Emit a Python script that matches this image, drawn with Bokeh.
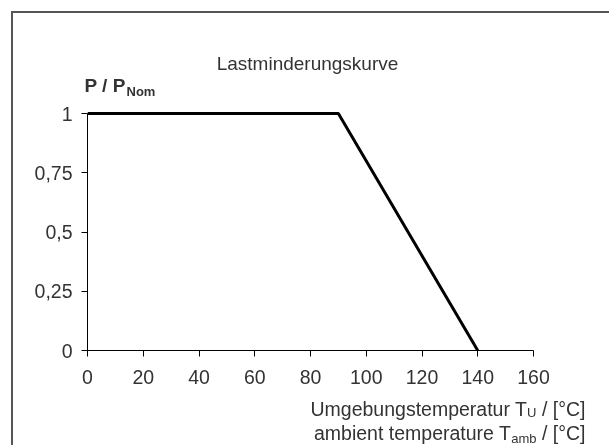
from bokeh.plotting import figure
from bokeh.models import Label, FixedTicker, Range1d
from bokeh.embed import file_html
from bokeh.resources import INLINE

# ---- data ----
temperature = [0, 90, 140]
load_ratio = [1, 1, 0]
x_ticks = [0, 20, 40, 60, 80, 100, 120, 140, 160]
y_ticks = [0, 0.25, 0.5, 0.75, 1]
y_tick_labels = ["0", "0,25", "0,5", "0,75", "1"]
chart_title = "Lastminderungskurve"
y_label_main = "P / P"
y_label_sub = "Nom"
x_label1 = ["Umgebungstemperatur T", "U", "/ [°C]"]
x_label2 = ["ambient temperature T", "amb", "/ [°C]"]

FONT = "Liberation Sans"
TXT = "#333333"

# ---- main chart ----
p = figure(width=600, height=440, x_range=Range1d(0, 160), y_range=Range1d(0, 1.03),
           min_border_left=74, min_border_right=80, min_border_top=93, min_border_bottom=103,
           output_backend="svg", toolbar_location=None, title=None)
p.styles = {"position": "fixed", "left": "11px", "top": "11px",
            "border-left": "2px solid #555555", "border-top": "2px solid #555555"}
p.outline_line_color = None
p.background_fill_color = "white"
p.border_fill_color = "white"
p.xgrid.visible = False
p.ygrid.visible = False

p.line(temperature, load_ratio, line_color="black", line_width=3)

for ax in (p.xaxis[0], p.yaxis[0]):
    ax.axis_line_color = "black"
    ax.major_tick_line_color = "black"
    ax.minor_tick_line_color = None
    ax.major_tick_in = 0
    ax.major_tick_out = 6
    ax.major_label_text_font = FONT
    ax.major_label_text_font_size = "19.5px"
    ax.major_label_text_color = TXT

p.xaxis[0].ticker = FixedTicker(ticks=x_ticks)
p.xaxis[0].bounds = (0, 160)
p.xaxis[0].major_label_standoff = 13

p.yaxis[0].ticker = FixedTicker(ticks=y_ticks)
p.yaxis[0].bounds = (0, 1)
p.yaxis[0].major_label_standoff = 9
p.yaxis[0].major_label_overrides = {t: s for t, s in zip(y_ticks, y_tick_labels)}

# ---- transparent text overlay (page pixel coordinates) ----
ov = figure(width=609, height=445, x_range=Range1d(0, 609), y_range=Range1d(445, 0),
            min_border=0, x_axis_type=None, y_axis_type=None,
            output_backend="svg", toolbar_location=None, title=None)
ov.styles = {"position": "fixed", "left": "0px", "top": "0px"}
ov.xgrid.visible = False
ov.ygrid.visible = False
ov.outline_line_color = None
ov.background_fill_alpha = 0
ov.border_fill_alpha = 0


def lab(x, y, text, size, align="left", bold=False):
    ov.add_layout(Label(x=x, y=y, text=text, text_font=FONT, text_font_size=size,
                        text_color=TXT, text_align=align, text_baseline="alphabetic",
                        text_font_style="bold" if bold else "normal"))


lab(307, 63, chart_title, "19px", align="center")
lab(84, 85, y_label_main, "19px", bold=True)
lab(126, 91, y_label_sub, "13px", bold=True)

lab(310, 408, x_label1[0], "19.5px")
lab(526.6, 412, x_label1[1], "13px")
lab(541.4, 408, x_label1[2], "19.5px")
lab(313.5, 432, x_label2[0], "19.5px")
lab(510.7, 437.5, x_label2[1], "13px")
lab(541.4, 432, x_label2[2], "19.5px")

open("out.html", "w").write(file_html([p, ov], INLINE))
